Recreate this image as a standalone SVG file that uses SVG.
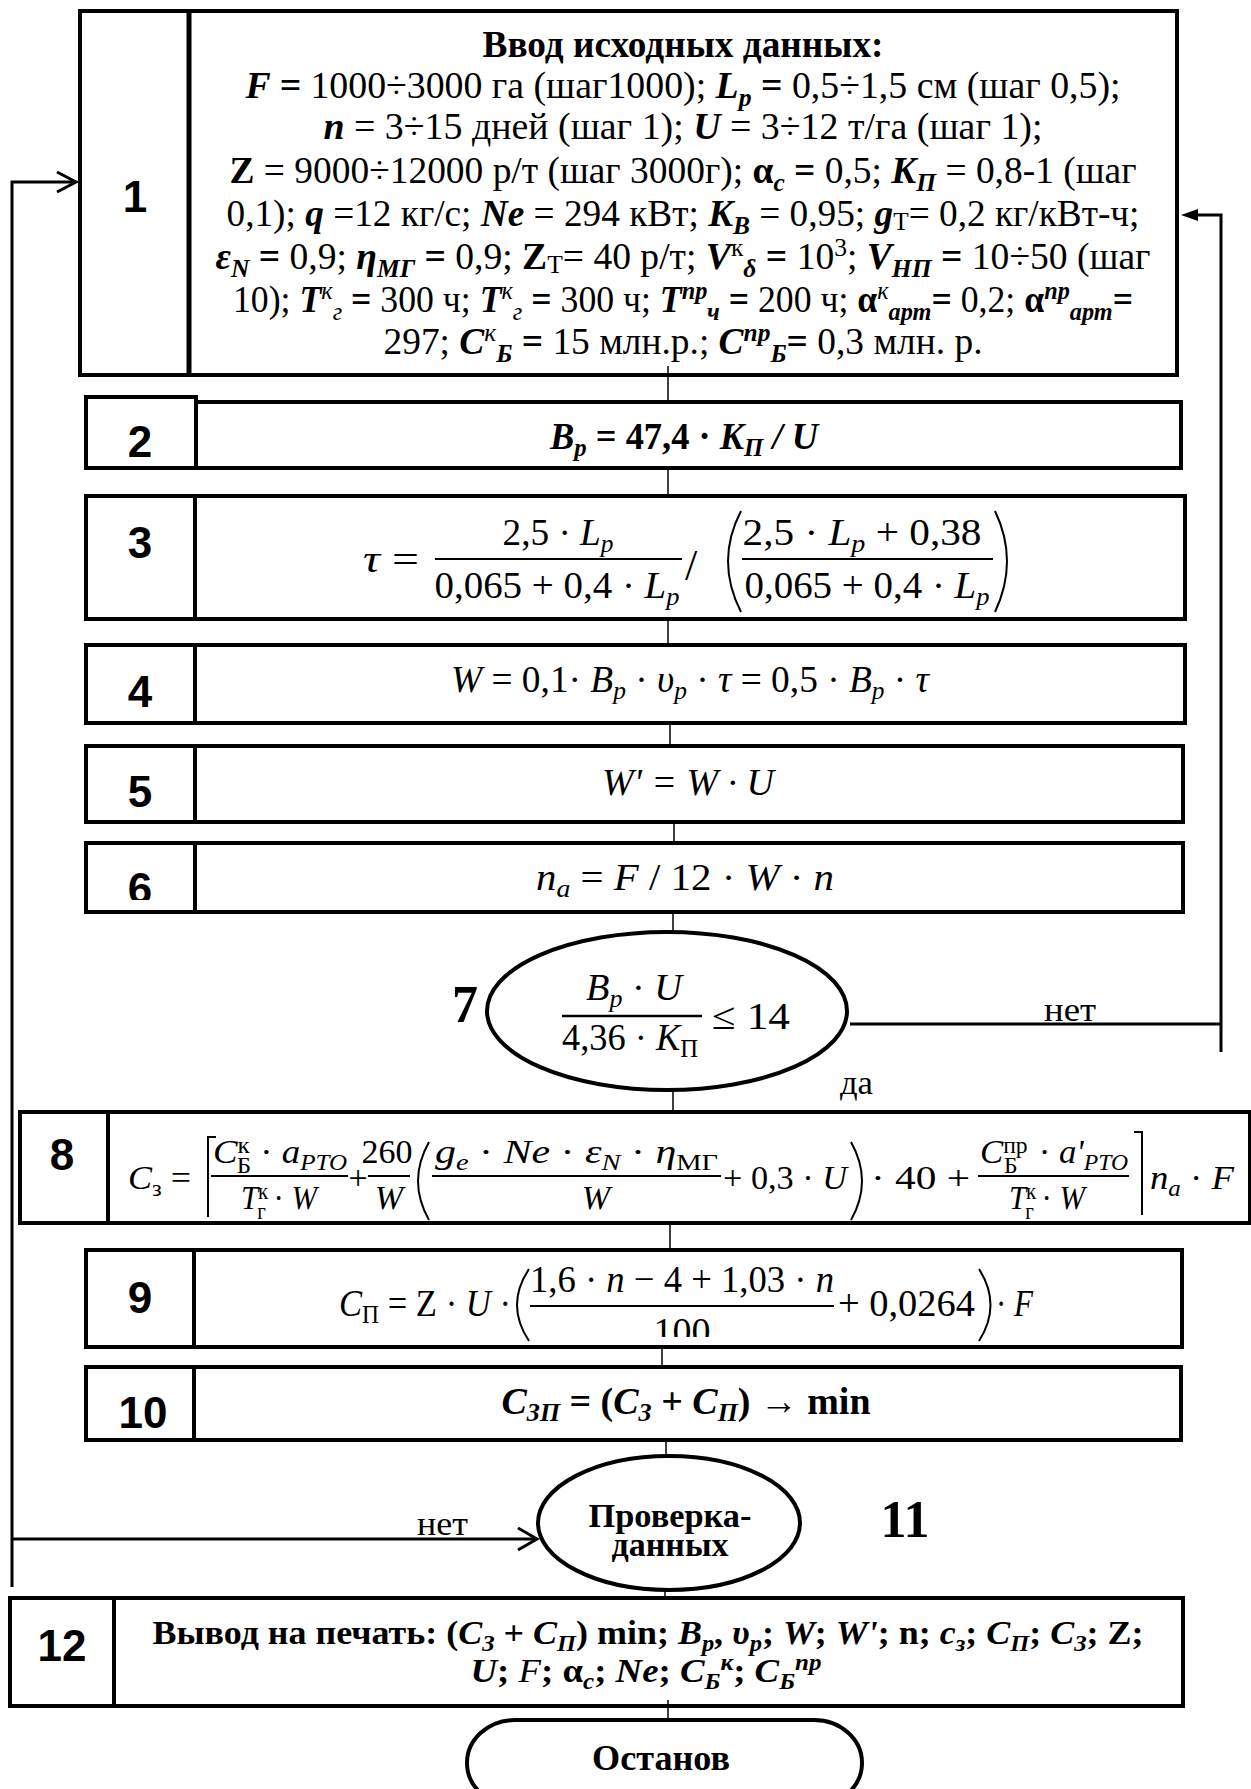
<svg xmlns="http://www.w3.org/2000/svg" width="1251" height="1789" viewBox="0 0 1251 1789">
<defs>
<style>
.bx{fill:#fff;stroke:#000;stroke-width:4}
.dv{stroke:#000;stroke-width:4}
.cn{stroke:#000;stroke-width:1.5;fill:none}
.lp{stroke:#000;stroke-width:3;fill:none}
.fb{stroke:#000;stroke-width:2;fill:none}
.num{font-family:"Liberation Sans",Arial,sans-serif;font-weight:bold;font-size:44px;text-anchor:middle}
.t{font-family:"Liberation Serif","Times New Roman",serif;font-size:38px}
.f34{font-size:34px}
.f36{font-size:36px}
.f37{font-size:37px}
.m{text-anchor:middle}
.b{font-weight:bold}
.n{font-weight:normal}
.i{font-style:italic}
.s{font-size:0.68em}
.big{font-family:"Liberation Serif","Times New Roman",serif;font-weight:bold;font-size:52px;text-anchor:middle}
</style>
<clipPath id="c6"><rect x="86" y="843" width="110" height="57"/></clipPath>
<clipPath id="c9"><rect x="600" y="1250" width="200" height="87"/></clipPath>
</defs>
<rect x="0" y="0" width="1251" height="1789" fill="#fff"/>

<g id="n1">
<rect class="bx" x="80" y="11" width="1097" height="364"/>
<line class="dv" x1="189" y1="11" x2="189" y2="375" style="stroke-width:5"/>
<text class="num" x="135" y="212">1</text>
<g class="t f37 m">
<text x="683" y="57" class="b" textLength="401" lengthAdjust="spacingAndGlyphs">Ввод исходных данных:</text>
<text x="683" y="98" textLength="875" lengthAdjust="spacingAndGlyphs"><tspan class="b i">F =</tspan> 1000÷3000 га (шаг1000);  <tspan class="b i">L</tspan><tspan class="b i s" dy="8">p</tspan><tspan class="b" dy="-8"> =</tspan> 0,5÷1,5 см (шаг 0,5);</text>
<text x="683" y="139" textLength="719" lengthAdjust="spacingAndGlyphs"><tspan class="b i">n</tspan> = 3÷15 дней (шаг 1);  <tspan class="b i">U</tspan> = 3÷12 т/га (шаг 1);</text>
<text x="683" y="183" textLength="907" lengthAdjust="spacingAndGlyphs"><tspan class="b">Z</tspan> = 9000÷12000 р/т (шаг 3000г); <tspan class="b">α</tspan><tspan class="b i s" dy="8">c</tspan><tspan class="b" dy="-8"> =</tspan> 0,5; <tspan class="b i">K</tspan><tspan class="b i s" dy="8">П</tspan><tspan dy="-8"> = 0,8-1 (шаг</tspan></text>
<text x="683" y="226" textLength="913" lengthAdjust="spacingAndGlyphs">0,1); <tspan class="b i">q</tspan> =12 кг/с; <tspan class="b i">Ne</tspan> = 294 кВт; <tspan class="b i">K</tspan><tspan class="b i s" dy="8">B</tspan><tspan dy="-8"> = 0,95; </tspan><tspan class="b i">g</tspan><tspan class="s" dy="4">Т</tspan><tspan dy="-4">= 0,2 кг/кВт-ч;</tspan></text>
<text x="683" y="269" textLength="935" lengthAdjust="spacingAndGlyphs"><tspan class="b i">ε</tspan><tspan class="b i s" dy="8">N</tspan><tspan class="b" dy="-8"> =</tspan> 0,9; <tspan class="b i">η</tspan><tspan class="b i s" dy="8">МГ</tspan><tspan class="b" dy="-8"> =</tspan> 0,9; <tspan class="b">Z</tspan><tspan class="s" dy="4">Т</tspan><tspan dy="-4">= 40 р/т; </tspan><tspan class="b i">V</tspan><tspan class="s" dy="-13">к</tspan><tspan class="b i s" dy="21">δ</tspan><tspan class="b" dy="-8"> =</tspan> 10<tspan class="s" dy="-13">3</tspan><tspan dy="13">;  </tspan><tspan class="b i">V</tspan><tspan class="b i s" dy="8">НП</tspan><tspan class="b" dy="-8"> =</tspan> 10÷50 (шаг</text>
<text x="683" y="312" textLength="900" lengthAdjust="spacingAndGlyphs">10); <tspan class="b i">T</tspan><tspan class="i s" dy="-13">к</tspan><tspan class="i s" dy="21">г</tspan><tspan class="b" dy="-8"> =</tspan> 300 ч; <tspan class="b i">T</tspan><tspan class="i s" dy="-13">к</tspan><tspan class="i s" dy="21">г</tspan><tspan class="b" dy="-8"> =</tspan> 300 ч; <tspan class="b i">T</tspan><tspan class="b i s" dy="-13">пр</tspan><tspan class="b i s" dy="21">ч</tspan><tspan class="b" dy="-8"> =</tspan> 200 ч; <tspan class="b">α</tspan><tspan class="i s" dy="-13">к</tspan><tspan class="b i s" dy="21">арт</tspan><tspan class="b" dy="-8">=</tspan> 0,2; <tspan class="b">α</tspan><tspan class="b i s" dy="-13">пр</tspan><tspan class="b i s" dy="21">арт</tspan><tspan class="b" dy="-8">=</tspan></text>
<text x="683" y="354" textLength="599" lengthAdjust="spacingAndGlyphs">297; <tspan class="b i">C</tspan><tspan class="i s" dy="-13">к</tspan><tspan class="b i s" dy="21">Б</tspan><tspan class="b" dy="-8"> =</tspan> 15  млн.р.; <tspan class="b i">C</tspan><tspan class="b i s" dy="-13">пр</tspan><tspan class="b i s" dy="21">Б</tspan><tspan class="b" dy="-8">=</tspan> 0,3 млн. р.</text>
</g>
</g>

<g id="n2">
<rect class="bx" x="86" y="397" width="110" height="71"/>
<rect class="bx" x="196" y="402" width="985" height="66"/>
<text class="num" x="140" y="457">2</text>
<text class="t b m" x="684" y="449" textLength="268" lengthAdjust="spacingAndGlyphs"><tspan class="i">B</tspan><tspan class="i s" dy="7">p</tspan><tspan dy="-7"> = 47,4 · </tspan><tspan class="i">K</tspan><tspan class="i s" dy="7">П</tspan><tspan class="i" dy="-7"> / U</tspan></text>
</g>

<g id="n3">
<rect class="bx" x="86" y="496" width="1099" height="123"/>
<line class="dv" x1="195" y1="496" x2="195" y2="619"/>
<text class="num" x="140" y="558">3</text>
<g class="t">
<text x="363" y="572" textLength="56" lengthAdjust="spacingAndGlyphs"><tspan class="i">τ</tspan> =</text>
<text class="m" x="558" y="545" textLength="111" lengthAdjust="spacingAndGlyphs">2,5 · <tspan class="i">L</tspan><tspan class="i s" dy="7">p</tspan></text>
<line class="fb" x1="435" y1="559" x2="682" y2="559"/>
<text class="m" x="557" y="598" textLength="245" lengthAdjust="spacingAndGlyphs">0,065 + 0,4 · <tspan class="i">L</tspan><tspan class="i s" dy="7">p</tspan></text>
<text x="685" y="580" style="font-size:44px">/</text>
<path class="fb" d="M741,511 Q715,561 741,612"/>
<text class="m" x="862" y="545" textLength="239" lengthAdjust="spacingAndGlyphs">2,5 · <tspan class="i">L</tspan><tspan class="i s" dy="7">p</tspan><tspan dy="-7"> + 0,38</tspan></text>
<line class="fb" x1="742" y1="559" x2="993" y2="559"/>
<text class="m" x="867" y="598" textLength="245" lengthAdjust="spacingAndGlyphs">0,065 + 0,4 · <tspan class="i">L</tspan><tspan class="i s" dy="7">p</tspan></text>
<path class="fb" d="M995,511 Q1019,561 995,612"/>
</g>
</g>

<g id="n4">
<rect class="bx" x="86" y="645" width="1099" height="78"/>
<line class="dv" x1="195" y1="645" x2="195" y2="723"/>
<text class="num" x="140" y="707">4</text>
<text class="t m" x="690" y="692" textLength="478" lengthAdjust="spacingAndGlyphs"><tspan class="i">W</tspan> = 0,1· <tspan class="i">B</tspan><tspan class="i s" dy="7">p</tspan><tspan dy="-7"> · </tspan><tspan class="i">υ</tspan><tspan class="i s" dy="7">p</tspan><tspan dy="-7"> · </tspan><tspan class="i">τ</tspan> = 0,5 · <tspan class="i">B</tspan><tspan class="i s" dy="7">p</tspan><tspan dy="-7"> · </tspan><tspan class="i">τ</tspan></text>
</g>

<g id="n5">
<rect class="bx" x="86" y="746" width="1097" height="76"/>
<line class="dv" x1="195" y1="746" x2="195" y2="822"/>
<text class="num" x="140" y="807">5</text>
<text class="t m i" x="688" y="795" textLength="172" lengthAdjust="spacingAndGlyphs">W' = W · U</text>
</g>

<g id="n6">
<rect class="bx" x="86" y="843" width="1097" height="69"/>
<line class="dv" x1="195" y1="843" x2="195" y2="912"/>
<text class="num" x="140" y="904" clip-path="url(#c6)">6</text>
<text class="t m" x="685" y="890" textLength="298" lengthAdjust="spacingAndGlyphs"><tspan class="i">n</tspan><tspan class="i s" dy="7">a</tspan><tspan dy="-7"> = </tspan><tspan class="i">F</tspan> / 12 · <tspan class="i">W</tspan> · <tspan class="i">n</tspan></text>
</g>

<g id="n7">
<ellipse cx="667" cy="1011" rx="180" ry="79" fill="#fff" stroke="#000" stroke-width="4"/>
<text class="big" x="465" y="1022">7</text>
<g class="t">
<text class="m" x="634" y="1000" textLength="96" lengthAdjust="spacingAndGlyphs"><tspan class="i">B</tspan><tspan class="i s" dy="7">p</tspan><tspan dy="-7"> · </tspan><tspan class="i">U</tspan></text>
<line x1="562" y1="1016" x2="702" y2="1016" stroke="#000" stroke-width="2.5"/>
<text class="m" x="630" y="1050" textLength="136" lengthAdjust="spacingAndGlyphs">4,36 · <tspan class="i">K</tspan><tspan class="s" dy="7">П</tspan></text>
<text x="712" y="1029" textLength="78" lengthAdjust="spacingAndGlyphs">≤ 14</text>
</g>
</g>

<g id="n8">
<rect class="bx" x="20" y="1112" width="1230" height="111"/>
<line class="dv" x1="108" y1="1112" x2="108" y2="1223"/>
<text class="num" x="62" y="1170">8</text>
<g class="t f34">
<text x="128" y="1189" textLength="63" lengthAdjust="spacingAndGlyphs"><tspan class="i">C</tspan><tspan class="s" dy="7">з</tspan><tspan dy="-7"> =</tspan></text>
<path class="fb" d="M216,1137 H208 V1217"/>
<text x="213" y="1163" textLength="134" lengthAdjust="spacingAndGlyphs"><tspan class="i">C</tspan><tspan class="s" dy="-10">к</tspan><tspan class="s" dx="-12" dy="20">Б</tspan><tspan dy="-10"> · </tspan><tspan class="i">a</tspan><tspan class="i s" dy="7">PTO</tspan></text>
<line class="fb" x1="211" y1="1176" x2="348" y2="1176"/>
<text class="m" x="279" y="1209" textLength="76" lengthAdjust="spacingAndGlyphs"><tspan class="i">T</tspan><tspan class="s" dy="-10">к</tspan><tspan class="s" dx="-12" dy="20">г</tspan><tspan dy="-10"> · </tspan><tspan class="i">W</tspan></text>
<text class="m" x="358" y="1189">+</text>
<text class="m" x="387" y="1163">260</text>
<line class="fb" x1="368" y1="1176" x2="410" y2="1176"/>
<text class="m i" x="389" y="1209">W</text>
<path class="fb" d="M429,1142 Q407,1181 429,1220"/>
<text x="435" y="1163" textLength="283" lengthAdjust="spacingAndGlyphs"><tspan class="i">g</tspan><tspan class="i s" dy="7">e</tspan><tspan dy="-7"> · </tspan><tspan class="i">Ne</tspan>  · <tspan class="i">ε</tspan><tspan class="i s" dy="7">N</tspan><tspan dy="-7"> · </tspan><tspan class="i">η</tspan><tspan class="s" dy="7">МГ</tspan></text>
<line class="fb" x1="432" y1="1176" x2="721" y2="1176"/>
<text class="m i" x="596" y="1209">W</text>
<text x="723" y="1189" textLength="124" lengthAdjust="spacingAndGlyphs">+ 0,3 · <tspan class="i">U</tspan></text>
<path class="fb" d="M851,1142 Q873,1181 851,1220"/>
<text x="871" y="1189" textLength="99" lengthAdjust="spacingAndGlyphs">· 40 +</text>
<text x="980" y="1163" textLength="148" lengthAdjust="spacingAndGlyphs"><tspan class="i">C</tspan><tspan class="s" dy="-10">пр</tspan><tspan class="s" dx="-23" dy="20">Б</tspan><tspan dy="-10" dx="12"> · </tspan><tspan class="i">a'</tspan><tspan class="i s" dy="7">PTO</tspan></text>
<line class="fb" x1="978" y1="1176" x2="1129" y2="1176"/>
<text class="m" x="1047" y="1209" textLength="76" lengthAdjust="spacingAndGlyphs"><tspan class="i">T</tspan><tspan class="s" dy="-10">к</tspan><tspan class="s" dx="-12" dy="20">г</tspan><tspan dy="-10"> · </tspan><tspan class="i">W</tspan></text>
<path class="fb" d="M1134,1132 H1142 V1215"/>
<text x="1150" y="1189" textLength="84" lengthAdjust="spacingAndGlyphs"><tspan class="i">n</tspan><tspan class="i s" dy="7">a</tspan><tspan dy="-7"> · </tspan><tspan class="i">F</tspan></text>
</g>
</g>

<g id="n9">
<rect class="bx" x="86" y="1250" width="1096" height="97"/>
<line class="dv" x1="194" y1="1250" x2="194" y2="1347"/>
<text class="num" x="140" y="1313">9</text>
<g class="t">
<text x="339" y="1316" textLength="172" lengthAdjust="spacingAndGlyphs"><tspan class="i">C</tspan><tspan class="s" dy="7">П</tspan><tspan dy="-7"> = Z · </tspan><tspan class="i">U</tspan> ·</text>
<path class="fb" d="M529,1269 Q505,1305 529,1341"/>
<text class="m" x="682" y="1292" textLength="304" lengthAdjust="spacingAndGlyphs">1,6 · <tspan class="i">n</tspan> − 4 + 1,03 · <tspan class="i">n</tspan></text>
<line class="fb" x1="530" y1="1306" x2="834" y2="1306"/>
<text class="m" x="682" y="1344" clip-path="url(#c9)">100</text>
<text x="838" y="1316" textLength="137" lengthAdjust="spacingAndGlyphs">+ 0,0264</text>
<path class="fb" d="M979,1269 Q1002,1305 979,1341"/>
<text x="996" y="1316" textLength="37" lengthAdjust="spacingAndGlyphs">· <tspan class="i">F</tspan></text>
</g>
</g>

<g id="n10">
<rect class="bx" x="86" y="1367" width="1095" height="73"/>
<line class="dv" x1="194" y1="1367" x2="194" y2="1440"/>
<text class="num" x="143" y="1428">10</text>
<text class="t b m" x="686" y="1414" textLength="369" lengthAdjust="spacingAndGlyphs"><tspan class="i">C</tspan><tspan class="i s" dy="7">ЗП</tspan><tspan dy="-7">  = (</tspan><tspan class="i">C</tspan><tspan class="i s" dy="7">З</tspan><tspan dy="-7"> + </tspan><tspan class="i">C</tspan><tspan class="i s" dy="7">П</tspan><tspan dy="-7">) → min</tspan></text>
</g>

<g id="n11">
<ellipse cx="669" cy="1523" rx="131" ry="67" fill="#fff" stroke="#000" stroke-width="4"/>
<text class="t f34 b m" x="670" y="1527" textLength="163" lengthAdjust="spacingAndGlyphs">Проверка-</text>
<text class="t f34 b m" x="670" y="1556" textLength="117" lengthAdjust="spacingAndGlyphs">данных</text>
<text class="big" x="905" y="1537">11</text>
</g>

<g id="n12">
<rect class="bx" x="10" y="1598" width="1173" height="108"/>
<line class="dv" x1="114" y1="1598" x2="114" y2="1706"/>
<text class="num" x="62" y="1661">12</text>
<g class="t f34 b m">
<text x="648" y="1644" textLength="991" lengthAdjust="spacingAndGlyphs">Вывод на печать: (<tspan class="i">C</tspan><tspan class="i s" dy="7">З</tspan><tspan dy="-7"> + </tspan><tspan class="i">C</tspan><tspan class="i s" dy="7">П</tspan><tspan dy="-7">) min; </tspan><tspan class="i">B</tspan><tspan class="i s" dy="7">p</tspan><tspan dy="-7">, </tspan><tspan class="i">υ</tspan><tspan class="i s" dy="7">p</tspan><tspan dy="-7">; </tspan><tspan class="i">W</tspan>; <tspan class="i">W'</tspan>; n; <tspan class="i">c</tspan><tspan class="i s" dy="7">з</tspan><tspan dy="-7">; </tspan><tspan class="i">C</tspan><tspan class="i s" dy="7">П</tspan><tspan dy="-7">; </tspan><tspan class="i">C</tspan><tspan class="i s" dy="7">З</tspan><tspan dy="-7">; Z;</tspan></text>
<text x="646" y="1682" textLength="351" lengthAdjust="spacingAndGlyphs"><tspan class="i">U</tspan>; <tspan class="i n">F</tspan>; α<tspan class="i s" dy="7">c</tspan><tspan dy="-7">; </tspan><tspan class="i">Ne</tspan>;  <tspan class="i">C</tspan><tspan class="i s" dy="7">Б</tspan><tspan class="i s" dy="-19">к</tspan><tspan dy="12">; </tspan><tspan class="i">C</tspan><tspan class="i s" dy="7">Б</tspan><tspan class="i s" dy="-19">пр</tspan></text>
</g>
</g>

<g id="stop">
<rect x="467" y="1720" width="395" height="86" rx="48" ry="43" fill="#fff" stroke="#000" stroke-width="4"/>
<text class="t f36 b m" x="661" y="1770" textLength="138" lengthAdjust="spacingAndGlyphs">Останов</text>
</g>

<g id="connectors">
<line class="cn" x1="668" y1="366" x2="668" y2="404"/>
<line class="cn" x1="668" y1="466" x2="668" y2="498"/>
<line class="cn" x1="668" y1="617" x2="668" y2="647"/>
<line class="cn" x1="670" y1="721" x2="670" y2="748"/>
<line class="cn" x1="674" y1="820" x2="674" y2="845"/>
<line class="cn" x1="673" y1="910" x2="673" y2="932"/>
<line class="cn" x1="673" y1="1090" x2="673" y2="1114"/>
<line class="cn" x1="670" y1="1221" x2="670" y2="1252"/>
<line class="cn" x1="662" y1="1345" x2="662" y2="1369"/>
<line class="cn" x1="666" y1="1438" x2="666" y2="1457"/>
<line class="cn" x1="665" y1="1589" x2="665" y2="1600"/>
<line class="cn" x1="668" y1="1700" x2="668" y2="1720"/>
<polyline class="lp" points="12,1587 12,182 76,182"/>
<path class="lp" d="M57,172 L76,182 L57,192"/>
<line class="lp" x1="12" y1="1539" x2="537" y2="1539"/>
<path class="lp" d="M518,1528 L537,1539 L518,1550"/>
<polyline class="lp" points="850,1024 1221,1024"/>
<polyline class="lp" points="1221,1052 1221,215 1195,215"/>
<polygon points="1181,215 1198,209 1198,221" fill="#000"/>
<text class="t f34" x="1044" y="1021" textLength="52" lengthAdjust="spacingAndGlyphs">нет</text>
<text class="t f34" x="840" y="1094" textLength="33" lengthAdjust="spacingAndGlyphs">да</text>
<text class="t f34" x="417" y="1535" textLength="51" lengthAdjust="spacingAndGlyphs">нет</text>
</g>
</svg>
